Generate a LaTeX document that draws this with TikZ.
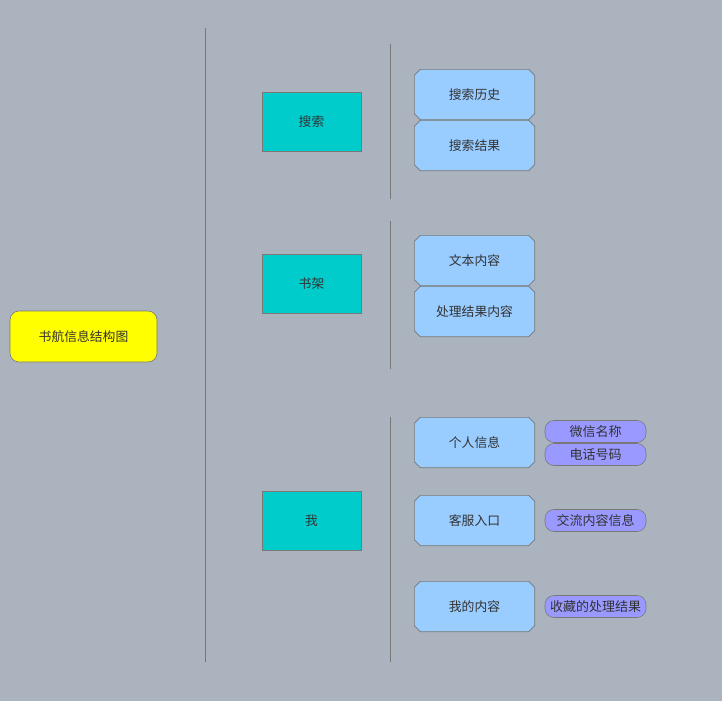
\documentclass[tikz,border=0pt]{standalone}
\usepackage{fontspec}
\newfontfamily\cjk{Noto Sans CJK SC}
\usetikzlibrary{calc}
\definecolor{bg}{RGB}{171,180,190}
\definecolor{rootc}{RGB}{255,255,0}
\definecolor{lvone}{RGB}{0,204,204}
\definecolor{lvtwo}{RGB}{153,204,255}
\definecolor{lvthree}{RGB}{153,153,255}
\definecolor{edge}{RGB}{120,120,120}
\definecolor{txt}{RGB}{51,51,51}
\newcommand{\chamfbox}[1]{%
  \filldraw[draw=edge, fill=lvtwo, line width=0.6pt]
    ($(#1.north west)+(6,0)$) -- ($(#1.north east)+(-6,0)$) -- ($(#1.north east)+(0,6)$)
    -- ($(#1.south east)+(0,-6)$) -- ($(#1.south east)+(-6,0)$) -- ($(#1.south west)+(6,0)$)
    -- ($(#1.south west)+(0,-6)$) -- ($(#1.north west)+(0,6)$) -- cycle;
  \node[twotext] at (#1.center) {\csname lbl#1\endcsname};}
\begin{document}
\begin{tikzpicture}[x=1pt,y=-1pt,
  every node/.style={font=\cjk\fontsize{12.8}{15}\selectfont, text=txt, inner sep=0pt},
  rootbox/.style={draw=edge, fill=rootc, rounded corners=9pt, minimum width=147pt, minimum height=51pt, line width=0.6pt},
  onebox/.style={draw=edge, fill=lvone, minimum width=99pt, minimum height=59pt, line width=0.6pt},
  twobox/.style={minimum width=120pt, minimum height=50pt},
  twotext/.style={},
  threebox/.style={draw=edge, fill=lvthree, rounded corners=9pt, minimum width=101pt, minimum height=22pt, line width=0.6pt, font=\cjk\fontsize{13}{15}\selectfont},
  sep/.style={draw=edge, line width=0.8pt}]
\fill[bg] (0,0) rectangle (722,701);
\useasboundingbox (0,0) rectangle (722,701);
\node[rootbox] (root) at (83.5,336.5) {书航信息结构图};
\draw[sep] (205,28) -- (205,662);
\node[onebox] (search) at (311.5,121.5) {搜索};
\node[onebox] (shelf) at (311.5,283.5) {书架};
\node[onebox] (me) at (311.5,520.5) {我};
\draw[sep] (390,44) -- (390,199);
\draw[sep] (390,221) -- (390,369);
\draw[sep] (390,417) -- (390,662);
\def\lblhist{搜索历史}\def\lblres{搜索结果}\def\lbltext{文本内容}\def\lblproc{处理结果内容}
\def\lblinfo{个人信息}\def\lblserv{客服入口}\def\lblmine{我的内容}
\node[twobox] (hist) at (474.5,94.5) {};
\node[twobox] (res) at (474.5,145.5) {};
\node[twobox] (text) at (474.5,260.5) {};
\node[twobox] (proc) at (474.5,311.5) {};
\node[twobox] (info) at (474.5,442.5) {};
\node[twobox] (serv) at (474.5,520.5) {};
\node[twobox] (mine) at (474.5,606.5) {};
\chamfbox{hist}\chamfbox{res}\chamfbox{text}\chamfbox{proc}
\chamfbox{info}\chamfbox{serv}\chamfbox{mine}
\node[threebox] (wx) at (595.5,431.5) {微信名称};
\node[threebox] (tel) at (595.5,454.5) {电话号码};
\node[threebox] (chat) at (595.5,520.5) {交流内容信息};
\node[threebox] (fav) at (595.5,606.5) {收藏的处理结果};
\end{tikzpicture}
\end{document}
